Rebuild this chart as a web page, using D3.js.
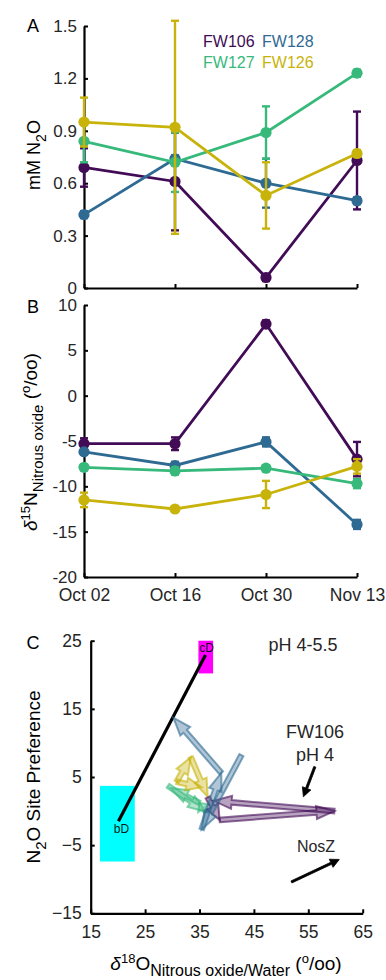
<!DOCTYPE html>
<html>
<head>
<meta charset="utf-8">
<script src="https://cdn.jsdelivr.net/npm/d3@7"></script>
<style>
  body { margin: 0; background: #fff; }
  svg { display: block; }
  text { font-family: "Liberation Sans", Arial, sans-serif; }
</style>
</head>
<body>
<svg width="386" height="980"></svg>
<script>
const dates = ["Oct 02", "Oct 16", "Oct 30", "Nov 13"];
const sites = ["FW106", "FW128", "FW127", "FW126"];
const colors = ["#420b56", "#2f6a93", "#37b97b", "#c8b30b"];

// panel A: mM N2O (mean, +/- error)
const n2oFW106 = [0.69, 0.61, 0.06, 0.73];
const n2oFW128 = [0.42, 0.74, 0.60, 0.50];
const n2oFW127 = [0.84, 0.72, 0.89, 1.23];
const n2oFW126 = [0.95, 0.92, 0.53, 0.77];
const n2oErrFW106 = [0.11, 0.28, 0.02, 0.28];
const n2oErrFW128 = [0.02, 0.02, 0.14, 0.02];
const n2oErrFW127 = [0.12, 0.17, 0.15, 0.02];
const n2oErrFW126 = [0.14, 0.61, 0.19, 0.02];

// panel B: d15N of nitrous oxide
const d15FW106 = [-5.3, -5.3, 7.9, -7.0];
const d15FW128 = [-6.2, -7.7, -5.1, -14.2];
const d15FW127 = [-7.9, -8.3, -8.0, -9.7];
const d15FW126 = [-11.5, -12.5, -10.9, -7.8];
const d15ErrFW106 = [0.6, 0.7, 0.4, 1.9];
const d15ErrFW128 = [0.3, 0.4, 0.5, 0.5];
const d15ErrFW127 = [0.3, 0.4, 0.3, 0.5];
const d15ErrFW126 = [0.8, 0.3, 1.5, 0.8];

// panel C: arrows [d18O start, SP start, d18O end, SP end]
const vecFW106 = [[36.5, 2.0, 38.7, -1.3], [38.7, -1.3, 59.8, 0.0], [59.8, 0.0, 37.6, 1.5]];
const vecFW128 = [[42.7, 8.2, 35.4, -2.7], [35.4, -2.7, 39.0, 5.6], [39.0, 5.6, 30.2, 13.7]];
const vecFW127 = [[29.2, 3.7, 36.2, -0.1], [36.2, -0.1, 35.0, 1.2], [35.0, 1.2, 29.6, 3.4]];
const vecFW126 = [[30.8, 4.3, 33.4, 7.9], [33.4, 7.9, 36.5, 2.1], [30.8, 4.3, 35.4, 3.5]];

// source boxes and mixing line
const boxBD = [16.7, 23.1, -7.4, 3.7];
const boxCD = [34.8, 37.5, 20.2, 25.0];
const lineBDCD = [[20.1, -1.5], [36.1, 22.9]];
const arrowFW106 = [56.2, 6.5, 54.1, 2.1];
const arrowNosZ = [51.9, -10.4, 60.7, -7.1];

const n2o = [n2oFW106, n2oFW128, n2oFW127, n2oFW126];
const n2oErr = [n2oErrFW106, n2oErrFW128, n2oErrFW127, n2oErrFW126];
const d15 = [d15FW106, d15FW128, d15FW127, d15FW126];
const d15Err = [d15ErrFW106, d15ErrFW128, d15ErrFW127, d15ErrFW126];
const vecs = [vecFW106, vecFW128, vecFW127, vecFW126];

const svg = d3.select("svg");
const ink = "#262626";
const tickFont = 17;

function styleAxis(g, size) {
  g.selectAll("path.domain").attr("stroke", "#000").attr("stroke-width", 2.2);
  g.selectAll(".tick line").attr("stroke", "#000").attr("stroke-width", 2);
  g.selectAll(".tick text").attr("fill", ink).style("font-size", size + "px")
    .style("font-family", '"Liberation Sans", Arial, sans-serif');
}

// rich text with sub/superscripts, parts = [text, kind, size]
function rich(sel, parts) {
  let shift = 0;
  parts.forEach(([t, kind, size]) => {
    const target = kind === "sub" ? 6 : kind === "sup" ? -7 : 0;
    const ts = sel.append("tspan").attr("dy", target - shift).style("font-size", size + "px").text(t);
    if (kind === "it") ts.style("font-style", "italic");
    shift = target;
  });
}

function arrowPath(x0, y0, x1, y1, w, L, H) {
  const dx = x1 - x0, dy = y1 - y0, len = Math.hypot(dx, dy);
  const ux = dx / len, uy = dy / len, nx = -uy, ny = ux;
  const hl = Math.min(L, len * 0.6);
  const bx = x1 - ux * hl, by = y1 - uy * hl;
  const pts = [[x0 + nx * w, y0 + ny * w], [bx + nx * w, by + ny * w], [bx + nx * H, by + ny * H],
    [x1, y1], [bx - nx * H, by - ny * H], [bx - nx * w, by - ny * w], [x0 - nx * w, y0 - ny * w]];
  return "M" + pts.map(p => p.join(",")).join("L") + "Z";
}

function panelLetter(t, y) {
  svg.append("text").attr("x", 33).attr("y", y).attr("text-anchor", "middle")
    .style("font-size", "18px").attr("fill", "#000").text(t);
}

// time series panels
function seriesPanel(y, values, errs, showLabels) {
  const x = d3.scalePoint().domain(dates).range([84, 357]);
  const g = svg.append("g");

  const xAxis = g.append("g").attr("transform", `translate(0,${y.range()[0]})`)
    .call(d3.axisBottom(x).tickSize(-4).tickSizeOuter(0).tickPadding(12)
      .tickFormat(showLabels ? (d => d) : () => ""));
  styleAxis(xAxis, tickFont + 0.5);

  const yAxis = g.append("g").attr("transform", "translate(84,0)")
    .call(d3.axisLeft(y).tickValues(y.ticksList).tickSize(-4).tickSizeOuter(0).tickPadding(7)
      .tickFormat(y.fmt));
  styleAxis(yAxis, tickFont);

  const line = d3.line().x((d, i) => x(dates[i])).y(d => y(d));

  values.forEach((vals, s) => {
    const sg = g.append("g");
    sg.append("path").datum(vals).attr("d", line).attr("fill", "none")
      .attr("stroke", colors[s]).attr("stroke-width", 2.8);
    const eb = sg.selectAll(".eb").data(vals).enter().append("g");
    eb.append("line").attr("x1", (d, i) => x(dates[i])).attr("x2", (d, i) => x(dates[i]))
      .attr("y1", (d, i) => y(d - errs[s][i])).attr("y2", (d, i) => y(d + errs[s][i]));
    eb.append("line").attr("x1", (d, i) => x(dates[i]) - 4).attr("x2", (d, i) => x(dates[i]) + 4)
      .attr("y1", (d, i) => y(d - errs[s][i])).attr("y2", (d, i) => y(d - errs[s][i]));
    eb.append("line").attr("x1", (d, i) => x(dates[i]) - 4).attr("x2", (d, i) => x(dates[i]) + 4)
      .attr("y1", (d, i) => y(d + errs[s][i])).attr("y2", (d, i) => y(d + errs[s][i]));
    eb.selectAll("line").attr("stroke", colors[s]).attr("stroke-width", 2.4);
    sg.selectAll("circle").data(vals).enter().append("circle")
      .attr("cx", (d, i) => x(dates[i])).attr("cy", d => y(d)).attr("r", 5.6)
      .attr("fill", colors[s]);
  });
  return g;
}

// Panel A
const yA = d3.scaleLinear().domain([0, 1.5]).range([288, 26]);
yA.ticksList = [0, 0.3, 0.6, 0.9, 1.2, 1.5];
yA.fmt = d => d === 0 ? "0" : d3.format(".1f")(d);
seriesPanel(yA, n2o, n2oErr, false);
panelLetter("A", 32);

const yLabA = svg.append("text").attr("transform", "translate(40,155) rotate(-90)")
  .attr("text-anchor", "middle").attr("fill", "#000");
rich(yLabA, [["mM N", "", 18], ["2", "sub", 14], ["O", "", 18]]);

svg.append("g").selectAll("text").data(sites).enter().append("text")
  .attr("x", (d, i) => [203, 262][i % 2]).attr("y", (d, i) => [47, 68][Math.floor(i / 2)])
  .attr("fill", (d, i) => colors[i]).style("font-size", "16px").text(d => d);

// Panel B
const yB = d3.scaleLinear().domain([-20, 10]).range([577, 305]);
yB.ticksList = [-20, -15, -10, -5, 0, 5, 10];
yB.fmt = d => d;
seriesPanel(yB, d15, d15Err, true);
panelLetter("B", 313);

const yLabB = svg.append("text").attr("transform", "translate(37,442) rotate(-90)")
  .attr("text-anchor", "middle").attr("fill", "#000");
rich(yLabB, [["δ", "it", 19], ["15", "sup", 13], ["N", "", 19], ["Nitrous oxide", "sub", 15],
  [" (", "", 19], ["o", "sup", 13], ["/oo)", "", 19]]);

// Panel C
const xC = d3.scaleLinear().domain([15, 65]).range([90.7, 362.7]);
const yC = d3.scaleLinear().domain([-15, 25]).range([913.3, 640.7]);
const gC = svg.append("g");

gC.append("rect").attr("x", xC(boxBD[0])).attr("width", xC(boxBD[1]) - xC(boxBD[0]))
  .attr("y", yC(boxBD[3])).attr("height", yC(boxBD[2]) - yC(boxBD[3])).attr("fill", "#00ffff");
gC.append("rect").attr("x", xC(boxCD[0])).attr("width", xC(boxCD[1]) - xC(boxCD[0]))
  .attr("y", yC(boxCD[3])).attr("height", yC(boxCD[2]) - yC(boxCD[3])).attr("fill", "#ff00ff");
gC.append("path").datum(lineBDCD).attr("d", d3.line().x(d => xC(d[0])).y(d => yC(d[1])))
  .attr("stroke", "#000").attr("stroke-width", 3.2).attr("fill", "none");

gC.append("text").attr("x", xC(lineBDCD[1][0]) + 1).attr("y", yC(lineBDCD[1][1]) - 3)
  .attr("text-anchor", "middle").style("font-size", "12px").attr("fill", "#1a0a20").text("cD");
gC.append("text").attr("x", xC(lineBDCD[0][0]) + 3).attr("y", yC(lineBDCD[0][1]) + 12)
  .attr("text-anchor", "middle").style("font-size", "12px").attr("fill", "#0a1a20").text("bD");

const xAxisC = gC.append("g").attr("transform", "translate(0,913.3)")
  .call(d3.axisBottom(xC).tickValues([15, 25, 35, 45, 55, 65]).tickSize(-4).tickSizeOuter(0).tickPadding(12));
styleAxis(xAxisC, tickFont + 0.5);
const yAxisC = gC.append("g").attr("transform", "translate(90.7,0)")
  .call(d3.axisLeft(yC).tickValues([-15, -5, 5, 15, 25]).tickSize(-4).tickSizeOuter(0).tickPadding(9));
styleAxis(yAxisC, tickFont + 0.5);

[2, 3, 0, 1].forEach(s => {
  gC.append("g").selectAll("path").data(vecs[s]).enter().append("path")
    .attr("d", d => arrowPath(xC(d[0]), yC(d[1]), xC(d[2]), yC(d[3]), 2.3, 18, 6.5))
    .attr("fill", colors[s]).attr("fill-opacity", 0.38)
    .attr("stroke", colors[s]).attr("stroke-opacity", 0.6).attr("stroke-width", 2)
    .attr("stroke-linejoin", "miter");
});

[arrowFW106, arrowNosZ].forEach(a => {
  gC.append("path").attr("d", arrowPath(xC(a[0]), yC(a[1]), xC(a[2]), yC(a[3]), 1.1, 9, 4.5))
    .attr("fill", "#000").attr("stroke", "#000").attr("stroke-width", 0.8);
});

gC.append("text").attr("x", 303).attr("y", 651).attr("text-anchor", "middle")
  .style("font-size", "18px").attr("fill", ink).text("pH 4-5.5");
gC.append("text").attr("x", 315).attr("y", 738).attr("text-anchor", "middle")
  .style("font-size", "18px").attr("fill", ink).text("FW106");
gC.append("text").attr("x", 315).attr("y", 761).attr("text-anchor", "middle")
  .style("font-size", "18px").attr("fill", ink).text("pH 4");
gC.append("text").attr("x", 316).attr("y", 852).attr("text-anchor", "middle")
  .style("font-size", "16px").attr("fill", ink).text("NosZ");

panelLetter("C", 649);

const yLabC = svg.append("text").attr("transform", "translate(40,777) rotate(-90)")
  .attr("text-anchor", "middle").attr("fill", "#000");
rich(yLabC, [["N", "", 19], ["2", "sub", 15], ["O Site Preference", "", 19]]);

const xLabC = svg.append("text").attr("transform", "translate(226,970)")
  .attr("text-anchor", "middle").attr("fill", "#000");
rich(xLabC, [["δ", "it", 19], ["18", "sup", 13], ["O", "", 19], ["Nitrous oxide/Water", "sub", 16],
  [" (", "", 19], ["o", "sup", 13], ["/oo)", "", 19]]);
</script>
</body>
</html>
